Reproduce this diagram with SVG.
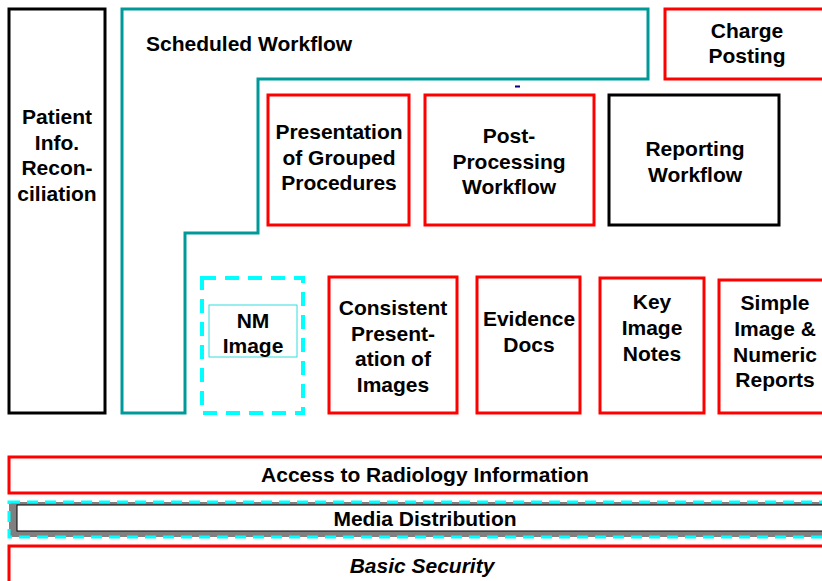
<svg xmlns="http://www.w3.org/2000/svg" width="822" height="581" viewBox="0 0 822 581">
<style>
.t{font-family:"Liberation Sans",Arial,sans-serif;font-weight:bold;font-size:21px;fill:#000;text-anchor:middle}
.red{fill:#fff;stroke:#ff0000;stroke-width:3}
.blk{fill:#fff;stroke:#000;stroke-width:3}
</style>
<rect width="822" height="581" fill="#fff"/>
<g id="patient"><rect class="blk" x="9" y="9" width="96" height="404"/>
<text class="t"><tspan x="57" y="124">Patient</tspan><tspan x="57" y="150">Info.</tspan><tspan x="57" y="175">Recon-</tspan><tspan x="57" y="201">ciliation</tspan></text></g>
<g id="scheduled"><path d="M122,9 H648 V79 H258 V233 H185 V413 H122 Z" fill="#fff" stroke="#009999" stroke-width="3"/>
<text class="t" x="146" y="51" style="text-anchor:start">Scheduled Workflow</text>
<line x1="515" y1="86.5" x2="520" y2="86.5" stroke="#000080" stroke-width="2"/></g>
<g id="charge"><rect class="red" x="665" y="9" width="170" height="70"/>
<text class="t"><tspan x="747" y="38">Charge</tspan><tspan x="747" y="63">Posting</tspan></text></g>
<g id="presentation"><rect class="red" x="268" y="95" width="141" height="130"/>
<text class="t"><tspan x="339" y="139">Presentation</tspan><tspan x="339" y="165">of Grouped</tspan><tspan x="339" y="190">Procedures</tspan></text></g>
<g id="postproc"><rect class="red" x="425" y="95" width="169" height="130"/>
<text class="t"><tspan x="509" y="143">Post-</tspan><tspan x="509" y="169">Processing</tspan><tspan x="509" y="194">Workflow</tspan></text></g>
<g id="reporting"><rect class="blk" x="609" y="95" width="170" height="130"/>
<text class="t"><tspan x="695" y="156">Reporting</tspan><tspan x="695" y="182">Workflow</tspan></text></g>
<g id="nm"><rect x="202" y="278" width="101" height="135" fill="#fff" stroke="#00ffff" stroke-width="4" stroke-dasharray="14,9"/>
<rect x="209" y="305" width="88" height="52" fill="#fff" stroke="#33dddd" stroke-width="1"/>
<text class="t"><tspan x="253" y="328">NM</tspan><tspan x="253" y="353">Image</tspan></text></g>
<g id="consistent"><rect class="red" x="329" y="277" width="128" height="136"/>
<text class="t"><tspan x="393" y="315">Consistent</tspan><tspan x="393" y="341">Present-</tspan><tspan x="393" y="366">ation of</tspan><tspan x="393" y="392">Images</tspan></text></g>
<g id="evidence"><rect class="red" x="477" y="277" width="103" height="136"/>
<text class="t"><tspan x="529" y="326">Evidence</tspan><tspan x="529" y="352">Docs</tspan></text></g>
<g id="keyimage"><rect class="red" x="600" y="278" width="104" height="135"/>
<text class="t"><tspan x="652" y="309">Key</tspan><tspan x="652" y="335">Image</tspan><tspan x="652" y="361">Notes</tspan></text></g>
<g id="simple"><rect class="red" x="719" y="280" width="120" height="133"/>
<text class="t"><tspan x="775" y="310">Simple</tspan><tspan x="775" y="336">Image &amp;</tspan><tspan x="775" y="362">Numeric</tspan><tspan x="775" y="387">Reports</tspan></text></g>
<g id="access"><rect class="red" x="9" y="457" width="830" height="36"/>
<text class="t" x="425" y="482">Access to Radiology Information</text></g>
<g id="media"><rect x="9" y="502" width="830" height="35" fill="#808080" stroke="#00ffff" stroke-width="3" stroke-dasharray="11,7"/>
<rect x="17" y="505" width="822" height="26" fill="#fff" stroke="#000" stroke-width="1"/>
<text class="t" x="425" y="526">Media Distribution</text></g>
<g id="security"><rect class="red" x="9" y="546" width="830" height="45"/>
<text class="t" x="422" y="573" font-style="italic">Basic Security</text></g>
<g id="connectors"></g>
</svg>
